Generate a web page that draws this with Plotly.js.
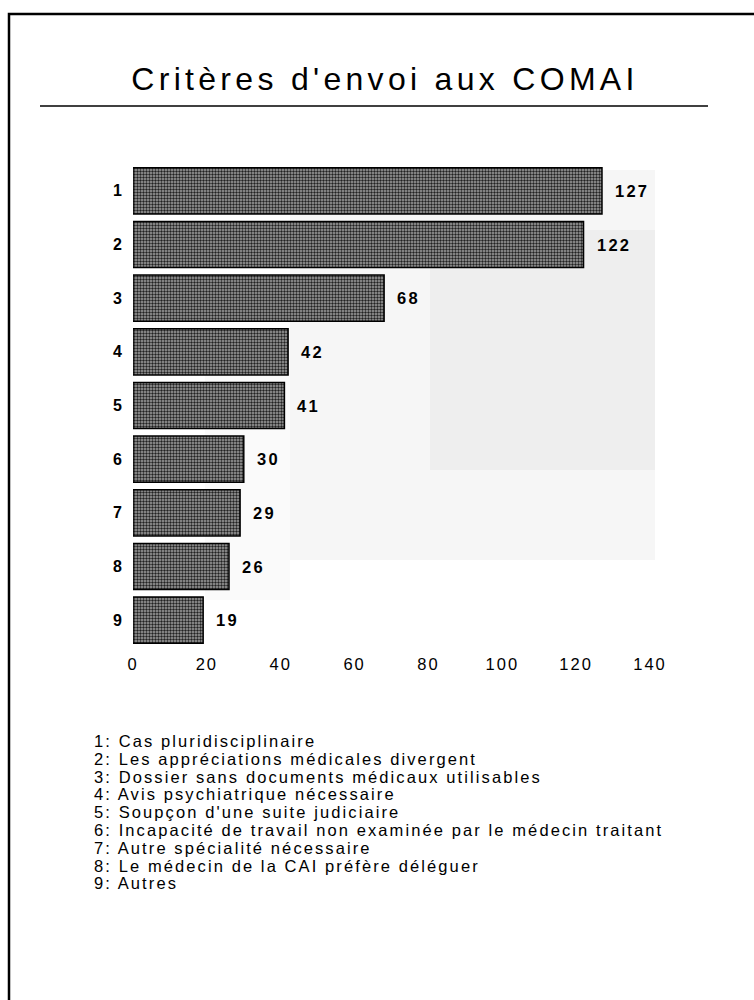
<!DOCTYPE html>
<html>
<head>
<meta charset="utf-8">
<script src="https://cdn.plot.ly/plotly-3.0.1.min.js"></script>
<style>
  html, body { margin: 0; padding: 0; background: #fff; }
  #chart { width: 754px; height: 1000px; }
  .gtitle { letter-spacing: 4.3px; }
  .xtick text { letter-spacing: 2px; }
  .ann-legend { letter-spacing: 2.1px; }
  .ann-value { letter-spacing: 2.2px; }
</style>
</head>
<body>
<div id="chart"></div>
<script>
// ---- data ----
const categories = ["1", "2", "3", "4", "5", "6", "7", "8", "9"];
const counts = [127, 122, 68, 42, 41, 30, 29, 26, 19];
const xTickValues = [0, 20, 40, 60, 80, 100, 120, 140];
const criteriaLabels = [
  "Cas pluridisciplinaire",
  "Les appréciations médicales divergent",
  "Dossier sans documents médicaux utilisables",
  "Avis psychiatrique nécessaire",
  "Soupçon d'une suite judiciaire",
  "Incapacité de travail non examinée par le médecin traitant",
  "Autre spécialité nécessaire",
  "Le médecin de la CAI préfère déléguer",
  "Autres"
];
const chartTitle = "Critères d'envoi aux COMAI";

// ---- layout geometry (pixels) ----
const W = 754, H = 1000;
const plotL = 133, plotR = 650, plotT = 164, plotB = 647;
const pw = plotR - plotL, ph = plotB - plotT;
const px2x = p => (p - plotL) / pw;      // paper x
const py2y = p => (plotB - p) / ph;      // paper y

const FONT = "Liberation Sans, Arial, Helvetica, sans-serif";

const trace = {
  type: "bar",
  orientation: "h",
  x: counts,
  y: categories,
  marker: {
    color: "#666",
    line: { color: "#000", width: 1.5 },
    pattern: { shape: ".", fillmode: "replace", bgcolor: "#a2a2a2", fgcolor: "#222", size: 3, solidity: 0.5 }
  },
  hoverinfo: "x+y"
};

const annotations = [];
// value labels (y given as category index)
counts.forEach((v, i) => {
  annotations.push({
    x: v, y: i, xref: "x", yref: "y",
    text: String(v), showarrow: false, xanchor: "left", yanchor: "middle", align: "left",
    xshift: 11, font: { family: FONT, size: 16.5, color: "#000", weight: "bold" }
  });
});
// criteria key
const keyX = 92, keyY0 = 741, keyStep = 17.8;
criteriaLabels.forEach((t, i) => {
  annotations.push({
    x: px2x(keyX), y: py2y(keyY0 + i * keyStep), xref: "paper", yref: "paper",
    text: categories[i] + ": " + t, showarrow: false, xanchor: "left", yanchor: "middle", align: "left",
    font: { family: FONT, size: 16.5, color: "#000" }
  });
});

const shapes = [
  // frame
  { type: "path", xref: "paper", yref: "paper",
    path: `M ${px2x(9)} ${py2y(1000)} L ${px2x(9)} ${py2y(14)} L ${px2x(754)} ${py2y(14)}`,
    line: { color: "#000", width: 2.5 } },
  // rule under the title
  { type: "line", xref: "paper", yref: "paper",
    x0: px2x(40), x1: px2x(708), y0: py2y(106), y1: py2y(106),
    line: { color: "#000", width: 1.5 } },
  // light stippled background
  { type: "rect", layer: "below", xref: "paper", yref: "paper",
    x0: px2x(290), x1: px2x(655), y0: py2y(560), y1: py2y(170),
    fillcolor: "rgba(0,0,0,0.035)", line: { width: 0 } },
  { type: "rect", layer: "below", xref: "paper", yref: "paper",
    x0: px2x(430), x1: px2x(655), y0: py2y(470), y1: py2y(230),
    fillcolor: "rgba(0,0,0,0.03)", line: { width: 0 } },
  { type: "rect", layer: "below", xref: "paper", yref: "paper",
    x0: px2x(205), x1: px2x(290), y0: py2y(600), y1: py2y(330),
    fillcolor: "rgba(0,0,0,0.02)", line: { width: 0 } }
];

const layout = {
  width: W, height: H, autosize: false,
  paper_bgcolor: "#fff", plot_bgcolor: "rgba(0,0,0,0)",
  margin: { l: plotL, r: W - plotR, t: plotT, b: H - plotB, pad: 0 },
  showlegend: false,
  bargap: 0.14,
  title: {
    text: chartTitle, x: 385 / W, xanchor: "center", y: 1 - 79 / H, yanchor: "middle",
    xref: "container", yref: "container",
    font: { family: FONT, size: 32, color: "#000" }
  },
  xaxis: {
    range: [0, 140], tickvals: xTickValues, ticktext: xTickValues.map(String),
    showgrid: false, zeroline: false, showline: false, ticks: "",
    tickfont: { family: FONT, size: 16.5, color: "#000" }, ticklabelstandoff: 5
  },
  yaxis: {
    type: "category", categoryorder: "array", categoryarray: categories, autorange: "reversed",
    showgrid: false, zeroline: false, showline: false, ticks: "",
    tickfont: { family: FONT, size: 16, color: "#000", weight: "bold" }, ticklabelstandoff: 10
  },
  annotations: annotations,
  shapes: shapes
};

Plotly.newPlot("chart", [trace], layout, { staticPlot: true, displayModeBar: false }).then(() => {
  document.querySelectorAll(".annotation-text").forEach((el, i) => {
    el.classList.add(i >= counts.length ? "ann-legend" : "ann-value");
  });
});
</script>
</body>
</html>
